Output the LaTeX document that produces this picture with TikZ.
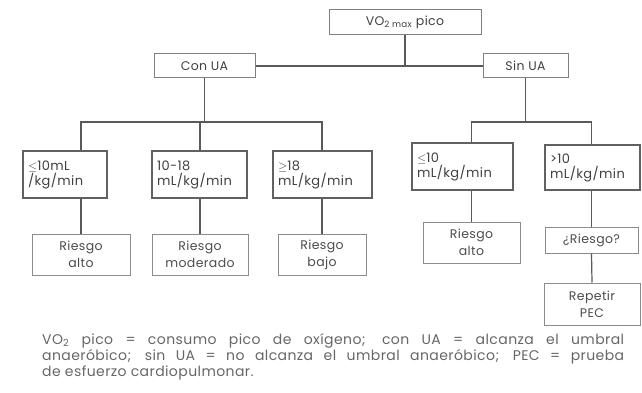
\documentclass[tikz,border=0pt]{standalone}
\usepackage{fontspec}
\setmainfont{Poppins}[LetterSpace=3]
\usepackage{tikz}

\begin{document}
\begin{tikzpicture}[x=1pt,y=-1pt,
                    link/.style={draw=black!65,line width=1.2pt},
                    box/.style={draw=black!62,line width=1.4pt,inner xsep=5pt,
                      font=\fontsize{13}{15}\selectfont,text=black!75},
                    head/.style={draw=black!50,line width=1pt,
                      font=\fontsize{12.5}{15}\selectfont,text=black!75},
                    leaf/.style={draw=black!45,line width=1pt,align=center,
                      font=\fontsize{12.5}{17}\selectfont,text=black!70}]
  \useasboundingbox (0,0) rectangle (642,393);
  % cabeza y ramas
  \node [head,minimum width=152pt,minimum height=25pt] (vo)  at (405,22) {VO\textsubscript{2 max} pico};
  \node [head,minimum width=101pt,minimum height=24pt] (con) at (204.5,66) {Con UA};
  \node [head,minimum width=85pt,minimum height=24pt]  (sin) at (525.5,66) {Sin UA};
  \coordinate (bar) at (0,122);
  % con UA
  \node [box,minimum height=47pt,text width=74pt,align=left] (a1) at (65,174.5)
        {$\leq$10mL\\/kg/min};
  \node [box,minimum height=47pt,text width=85pt,align=left] (a2) at (199.5,174.5)
        {10-18\\mL/kg/min};
  \node [box,minimum height=47pt,text width=89pt,align=left] (a3) at (322.5,174.5)
        {$\geq$18\\mL/kg/min};
  \node [leaf,minimum width=98pt,minimum height=41pt] (l1) at (81,254.5)  {Riesgo\\alto};
  \node [leaf,minimum width=96pt,minimum height=41pt] (l2) at (200,254.5) {Riesgo\\moderado};
  \node [leaf,minimum width=88pt,minimum height=41pt] (l3) at (322,254.5) {Riesgo\\bajo};
  % sin UA
  \node [box,minimum height=47pt,text width=91pt,align=left] (b1) at (462.5,166.5)
        {$\leq$10\\mL/kg/min};
  \node [box,minimum height=45pt,text width=85pt,align=left] (b2) at (592.5,167.5)
        {>10\\mL/kg/min};
  \node [leaf,minimum width=97pt,minimum height=41pt] (r1)  at (471.5,242.5) {Riesgo\\alto};
  \node [leaf,minimum width=93pt,minimum height=26pt] (q)   at (591.5,240)   {¿Riesgo?};
  \node [leaf,minimum width=96pt,minimum height=42pt] (rep) at (592,304)     {Repetir\\PEC};
  % leyenda
  \node [anchor=north west,text width=582pt,align=justify,inner sep=0pt,text=black!60,
         font=\fontsize{14}{16}\selectfont] (cap) at (42,333)
        {VO\textsubscript{2} pico = consumo pico de oxígeno; con UA = alcanza el umbral\linebreak
         anaeróbico; sin UA = no alcanza el umbral anaeróbico; PEC = prueba\linebreak
         de esfuerzo cardiopulmonar.};

  \draw [link] (vo.south) -- (vo.south |- con.east);
  \draw [link] (con.east) -- (sin.west);
  \draw [link] (con.south) -- (con.south |- bar);
  \draw [link] (l1 |- a1.north) |- (l3 |- bar) -- (l3 |- a3.north);
  \draw [link] (l2 |- bar) -- (l2 |- a2.north);
  \draw [link] (sin.south) -- (sin.south |- bar);
  \draw [link] (r1 |- b1.north) |- (q |- bar) -- (q |- b2.north);
  \draw [link] (l1 |- a1.south) -- (l1.north);
  \draw [link] (l2 |- a2.south) -- (l2.north);
  \draw [link] (l3 |- a3.south) -- (l3.north);
  \draw [link] (r1 |- b1.south) -- (r1.north);
  \draw [link] (q |- b2.south) -- (q.north);
  \draw [link] (q.south) -- (rep.north);
\end{tikzpicture}
\end{document}
